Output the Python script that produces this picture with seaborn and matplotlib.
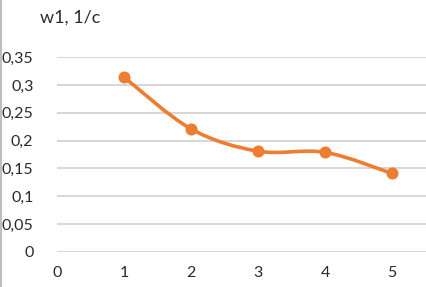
import matplotlib
matplotlib.use("Agg")
import matplotlib.pyplot as plt
import seaborn as sns
import pandas as pd
from matplotlib.path import Path
from matplotlib.patches import PathPatch
from matplotlib.lines import Line2D
from matplotlib.ticker import FuncFormatter

# данные
x_vals = [1, 2, 3, 4, 5]
w1_vals = [0.314, 0.221, 0.181, 0.179, 0.141]
x_ticks = [0, 1, 2, 3, 4, 5]
y_ticks = [0, 0.05, 0.1, 0.15, 0.2, 0.25, 0.3, 0.35]
title = "w1, 1/c"

orange = "#ED7D31"

sns.set_theme(style="white")
plt.rcParams['font.family'] = ['Lato', 'DejaVu Sans']

fig = plt.figure(figsize=(4.27, 2.87), dpi=100)
ax = fig.add_axes([0.1335, 0.122, 0.8665, 0.679])

df = pd.DataFrame({"x": x_vals, "w1": w1_vals})

# сглаженная линия (как в Excel) через кривые Безье
verts = [(x_vals[0], w1_vals[0])]
codes = [Path.MOVETO]
n = len(x_vals)
for i in range(n - 1):
    p0 = (x_vals[max(i - 1, 0)], w1_vals[max(i - 1, 0)])
    p1 = (x_vals[i], w1_vals[i])
    p2 = (x_vals[i + 1], w1_vals[i + 1])
    p3 = (x_vals[min(i + 2, n - 1)], w1_vals[min(i + 2, n - 1)])
    t = 1 / 6
    c1 = (p1[0] + (p2[0] - p0[0]) * t, p1[1] + (p2[1] - p0[1]) * t)
    c2 = (p2[0] - (p3[0] - p1[0]) * t, p2[1] - (p3[1] - p1[1]) * t)
    verts += [c1, c2, p2]
    codes += [Path.CURVE4] * 3
ax.add_patch(PathPatch(Path(verts, codes), fill=False, edgecolor=orange,
                       lw=2.6, capstyle="round", joinstyle="round", zorder=3))

sns.scatterplot(data=df, x="x", y="w1", ax=ax, color=orange, s=75,
                edgecolor=orange, linewidth=0, zorder=4)

ax.set_xlim(0, 5.52)
ax.set_ylim(0, 0.35)
ax.set_xticks(x_ticks)
ax.set_yticks(y_ticks)
ax.yaxis.set_major_formatter(FuncFormatter(lambda v, p: ("%g" % round(v, 2)).replace(".", ",")))
ax.grid(axis="y", color="#d0d0d0", lw=1.2)
ax.grid(axis="x", visible=False)
for s in ax.spines.values():
    s.set_visible(False)
ax.tick_params(axis="both", length=0, labelsize=11.5, colors="#2a2a2a")
ax.tick_params(axis="y", pad=17)
ax.tick_params(axis="x", pad=10)
ax.set_xlabel("")
ax.set_ylabel("")

fig.text(40 / 427, 1 - 18 / 287, title, fontsize=13, color="#2a2a2a",
         ha="left", va="center")
fig.add_artist(Line2D([0.003, 0.003], [0, 1], color="#bfbfbf", lw=1.5,
                      transform=fig.transFigure))

fig.savefig("out.png", dpi=100)
